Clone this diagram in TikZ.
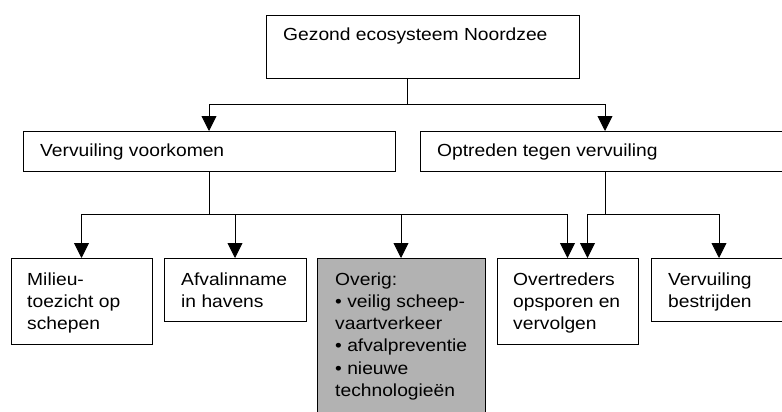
\documentclass[tikz,border=0pt]{standalone}
\usepackage{fontspec}
\setmainfont{Liberation Sans}[FakeStretch=1.1]
\usetikzlibrary{arrows.meta}
\definecolor{boxgrey}{RGB}{178,178,178}
\begin{document}
\begin{tikzpicture}[x=1pt,y=-1pt,
  box/.style={draw=black, line width=0.9pt, rectangle, inner sep=0pt, outer sep=0pt, anchor=north west},
  txt/.style={anchor=north west, inner sep=0pt, align=left, font=\fontsize{17.5}{22.2}\selectfont},
  conn/.style={draw=black, line width=0.9pt},
  arr/.style={conn, -{Triangle[length=15pt,width=15pt]}}]
\useasboundingbox (0,0) rectangle (782,412);
\clip (0,0) rectangle (782,412);
% boxes
\node[box, minimum width=313pt, minimum height=63pt] (top) at (266,15) {};
\node[box, minimum width=372pt, minimum height=40pt] (vv) at (23,131) {};
\node[box, minimum width=370pt, minimum height=40pt] (ot) at (420,131) {};
\node[box, minimum width=141pt, minimum height=86pt] (milieu) at (11,258) {};
\node[box, minimum width=142pt, minimum height=63pt] (afval) at (164,258) {};
\node[box, fill=boxgrey, minimum width=168pt, minimum height=160pt] (overig) at (317,258) {};
\node[box, minimum width=141pt, minimum height=86pt] (overtr) at (497,258) {};
\node[box, minimum width=136pt, minimum height=63pt] (bestr) at (651,258) {};
% texts
\node[txt] (top-t) at (283,27.4) {Gezond ecosysteem Noordzee};
\node[txt] (vv-t) at (40,143.4) {Vervuiling voorkomen};
\node[txt] (ot-t) at (437,143.4) {Optreden tegen vervuiling};
\node[txt] (milieu-t) at (27,272.4) {Milieu-\\toezicht op\\schepen};
\node[txt] (afval-t) at (181,272.4) {Afvalinname\\in havens};
\node[txt] (overig-t) at (335,272.4) {Overig:\\• veilig scheep-\\vaartverkeer\\• afvalpreventie\\• nieuwe\\technologieën};
\node[txt] (overtr-t) at (513,272.4) {Overtreders\\opsporen en\\vervolgen};
\node[txt] (bestr-t) at (668,272.4) {Vervuiling\\bestrijden};
% connectors
\coordinate (j0) at (407,104);
\draw[conn] (top.south -| j0) -- (j0);
\draw[arr] (j0) -| (vv.north);
\draw[arr] (j0) -| (ot.north);
\coordinate (j1) at (209,214);
\draw[conn] (vv.south) -- (j1);
\draw[arr] (j1) -| (milieu.north);
\draw[arr] (j1) -| (afval.north);
\draw[arr] (j1) -| (overig.north);
\draw[arr] (j1) -| (overtr.north);
\coordinate (j2) at (605,214);
\draw[conn] (ot.south) -- (j2);
\draw[arr] (j2) -| ([xshift=20pt]overtr.north);
\draw[arr] (j2) -| (bestr.north);
\end{tikzpicture}
\end{document}
